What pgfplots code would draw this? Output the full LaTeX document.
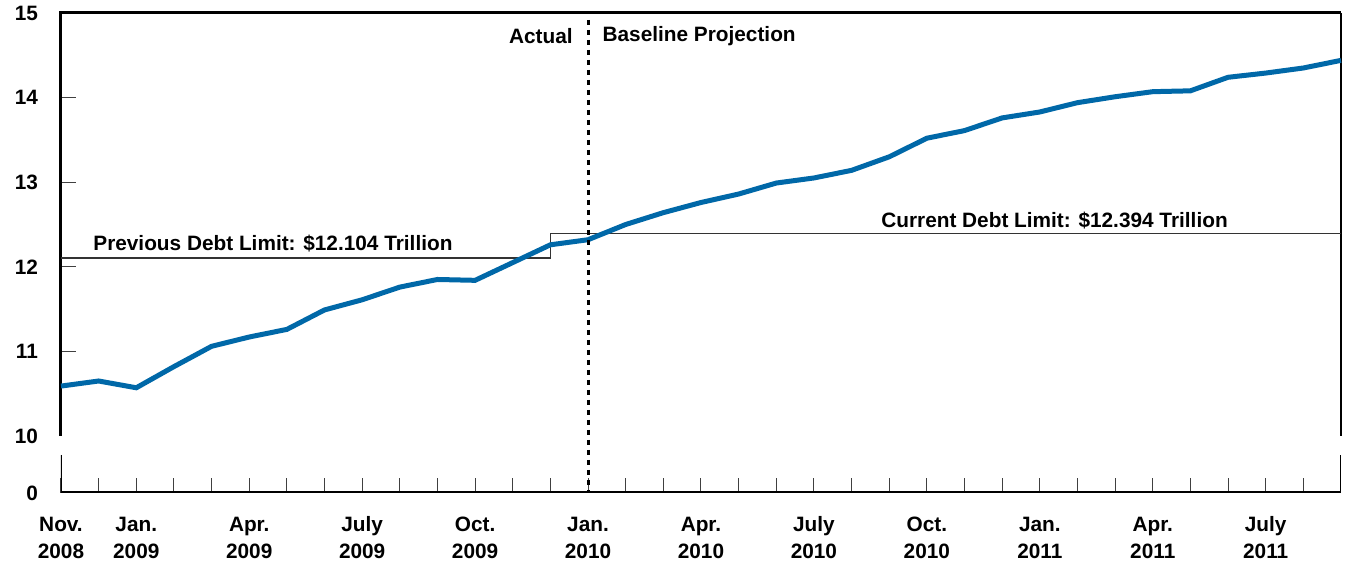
\documentclass[border=0pt]{standalone}
\usepackage{pgfplots}
\pgfplotsset{compat=1.18}
\usepackage{fontspec}
\setmainfont{Liberation Sans}

\definecolor{debtblue}{HTML}{0068A8}

\pgfplotstableread{
idx debt
0  10.59
1  10.65
2  10.57
3  10.82
4  11.06
5  11.17
6  11.26
7  11.49
8  11.61
9  11.76
10 11.85
11 11.84
12 12.05
13 12.26
14 12.32
15 12.50
16 12.64
17 12.76
18 12.86
19 12.99
20 13.05
21 13.14
22 13.30
23 13.52
24 13.61
25 13.76
26 13.83
27 13.94
28 14.01
29 14.07
30 14.08
31 14.24
32 14.29
33 14.35
34 14.44
}\debt

\newcommand\tl[2]{\strut #1\\\strut #2}

\begin{document}
\begin{tikzpicture}
\useasboundingbox (-30.5pt,-39pt) rectangle (642.5pt,246.5pt);
\pgfplotsset{
  every axis/.append style={
    scale only axis, width=640pt, xmin=0, xmax=34,
    axis line style={draw=none},
    tick align=inside,
    major tick length=7.5pt,
    minor tick length=7.5pt,
    tick style={black!75, line width=0.5pt},
    tick label style={font=\fontsize{10.4}{13.5}\selectfont\bfseries},
    yticklabel style={xshift=-8pt},
    /pgf/number format/assume math mode=true,
  }
}
% lower panel (zero)
\begin{axis}[
  at={(0pt,0pt)}, anchor=south west, height=19pt,
  ymin=0, ymax=1, ytick={0}, ytick style={draw=none},
  xtick={0,2,5,8,11,14,17,20,23,26,29,32},
  xticklabels={\tl{Nov.}{2008},\tl{Jan.}{2009},\tl{Apr.}{2009},\tl{July}{2009},\tl{Oct.}{2009},\tl{Jan.}{2010},\tl{Apr.}{2010},\tl{July}{2010},\tl{Oct.}{2010},\tl{Jan.}{2011},\tl{Apr.}{2011},\tl{July}{2011}},
  minor xtick={1,...,34},
  xtick pos=bottom,
  xticklabel style={align=center, yshift=-9.5pt, inner sep=0pt},
]
\draw[line width=1.5pt] (rel axis cs:0,1) -- (rel axis cs:0,0) -- (rel axis cs:1,0);
\draw[line width=0.6pt] (rel axis cs:1,0) -- (rel axis cs:1,1);
\end{axis}
% upper panel
\begin{axis}[
  at={(0pt,28.5pt)}, anchor=south west, height=211.5pt,
  ymin=10, ymax=15, xtick=\empty,
  ytick={11,12,13,14}, ytick pos=left,
  extra y ticks={10,15}, extra y tick style={ytick style={draw=none}},
  clip=false,
]
\draw[line width=1.5pt] (rel axis cs:0,0) -- (rel axis cs:0,1) -- (rel axis cs:1,1);
\draw[line width=0.6pt] (rel axis cs:1,1) -- (rel axis cs:1,0);
\addplot[black!80, line width=0.6pt] coordinates {(0,12.104) (13,12.104) (13,12.394) (34,12.394)};
\addplot[debtblue, line width=2.5pt] table[x=idx, y=debt] {\debt};
\draw[line width=1.5pt, dash pattern=on 2.5pt off 2.5pt] (axis cs:14,14.92) -- (axis cs:14,9.33);
\node[anchor=east, font=\fontsize{10.4}{12}\selectfont\bfseries] at (axis cs:13.78,14.73) {Actual};
\node[anchor=west, font=\fontsize{10.4}{12}\selectfont\bfseries] at (axis cs:14.2,14.73) {Baseline Projection};
\node[anchor=west, font=\fontsize{10.4}{12}\selectfont\bfseries, inner sep=0pt] at (axis cs:0.85,12.28) {Previous Debt Limit: \$12.104 Trillion};
\node[anchor=west, font=\fontsize{10.4}{12}\selectfont\bfseries, inner sep=0pt] at (axis cs:21.78,12.55) {Current Debt Limit: \$12.394 Trillion};
\end{axis}
\end{tikzpicture}
\end{document}
